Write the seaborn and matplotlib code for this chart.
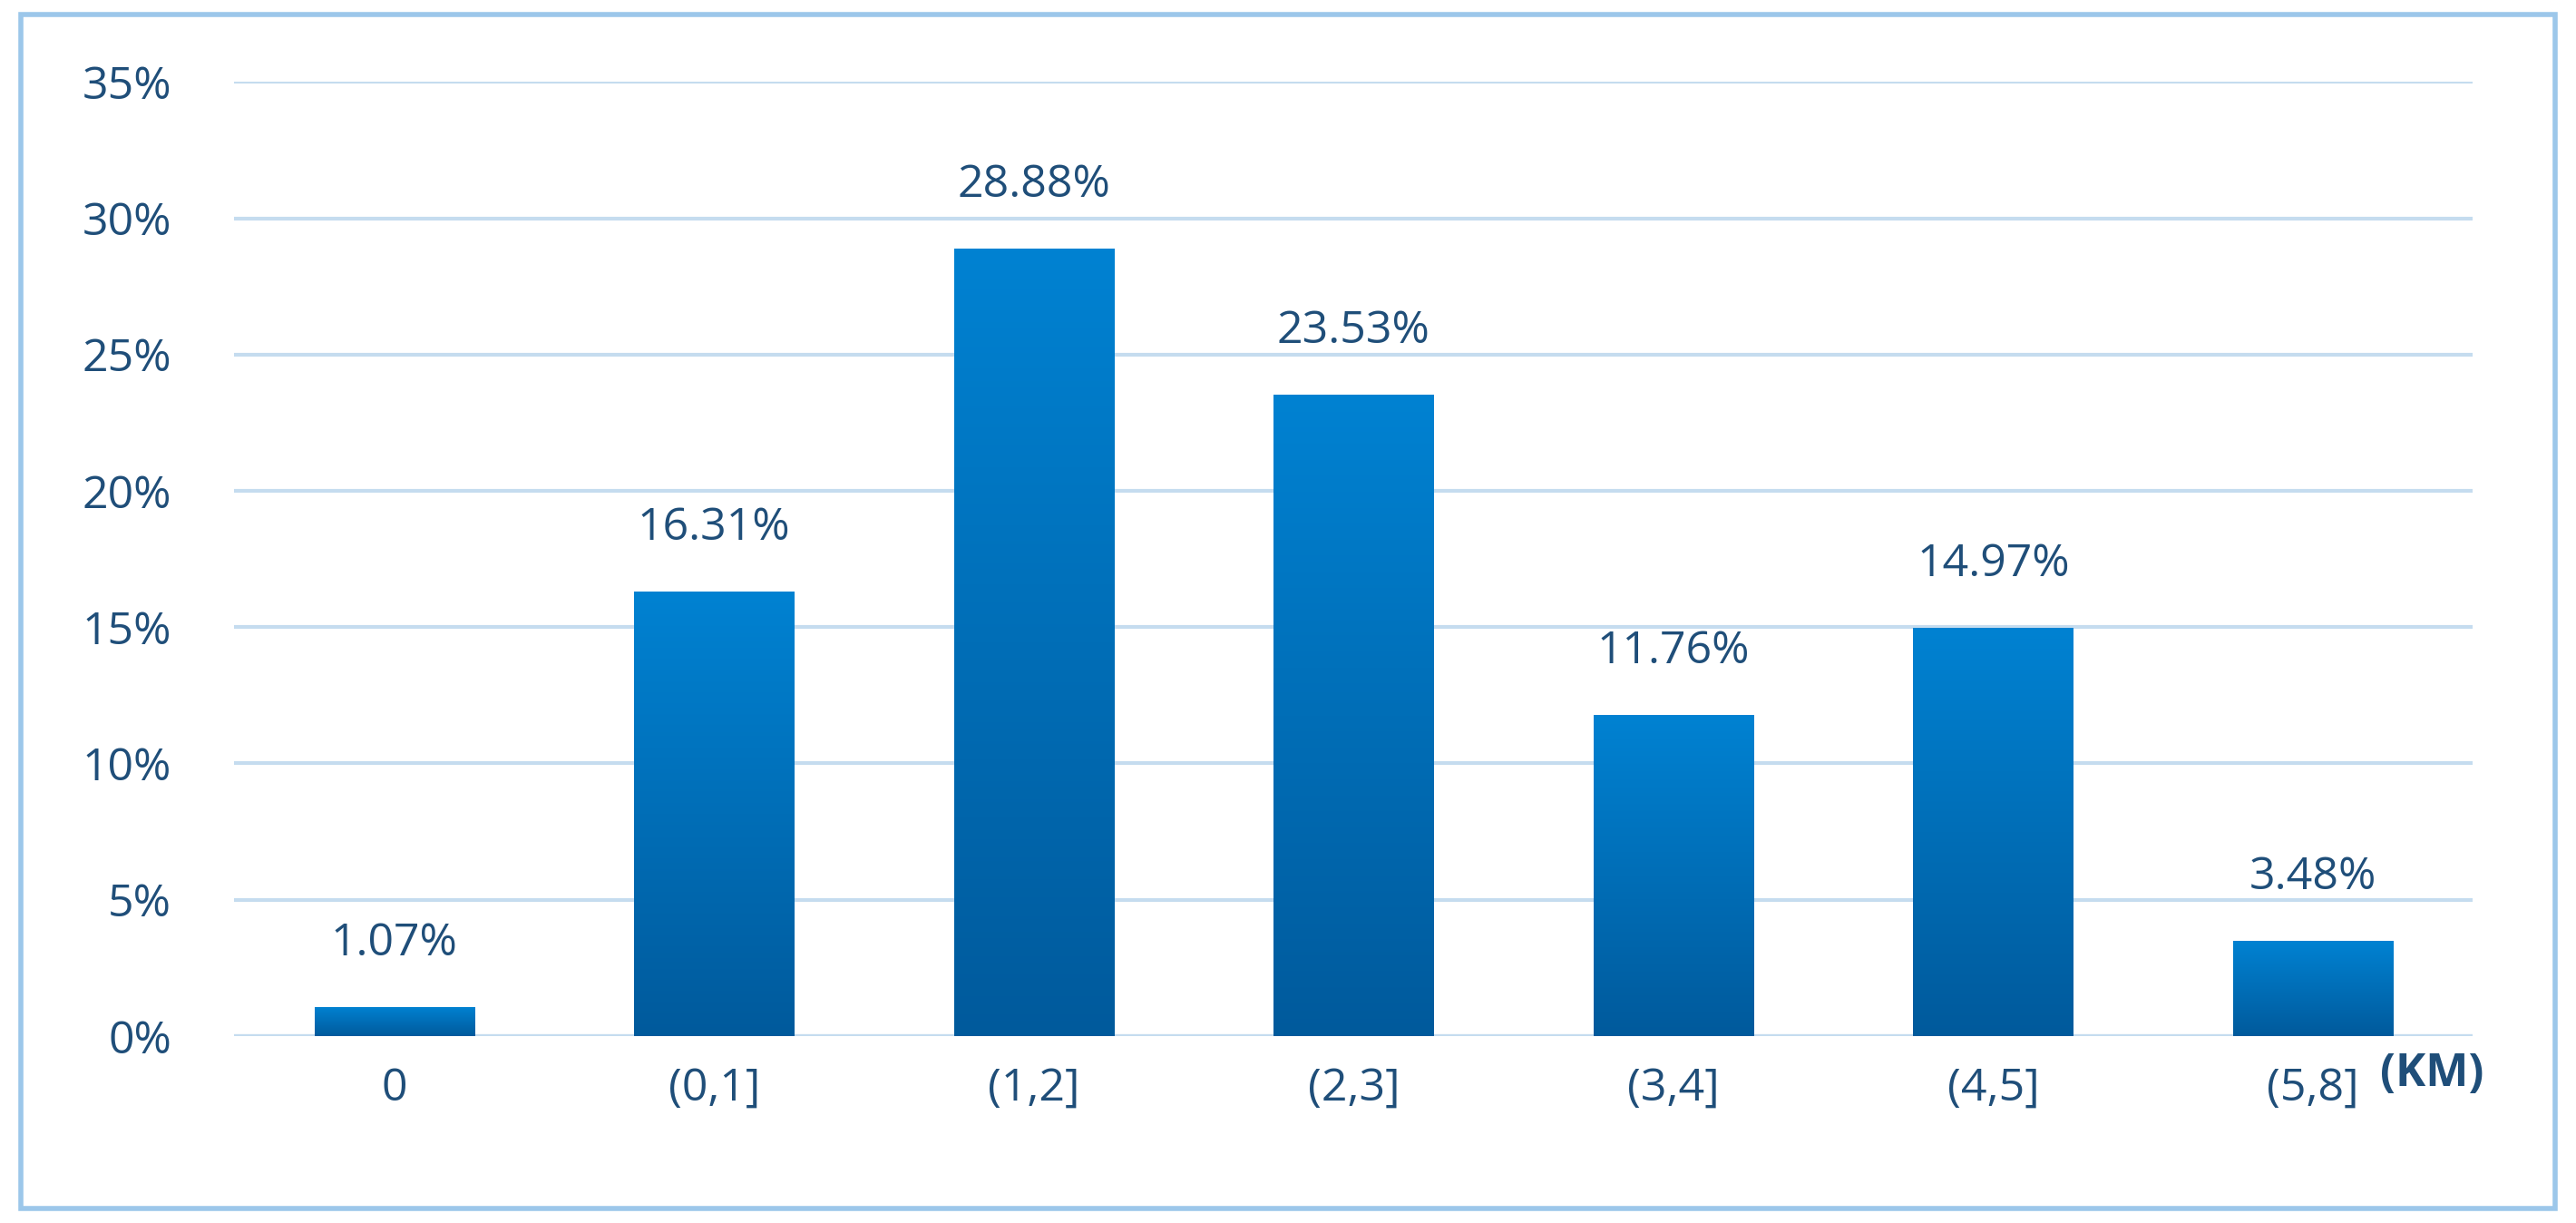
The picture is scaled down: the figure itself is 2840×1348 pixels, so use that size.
import numpy as np
import pandas as pd
import seaborn as sns
import matplotlib.pyplot as plt
from matplotlib.patches import Rectangle
from matplotlib.colors import LinearSegmentedColormap

categories = ['0', '(0,1]', '(1,2]', '(2,3]', '(3,4]', '(4,5]', '(5,8]']
shares = [1.07, 16.31, 28.88, 23.53, 11.76, 14.97, 3.48]
yticks = [0, 5, 10, 15, 20, 25, 30, 35]

text_color = '#1f4e79'
grid_color = '#c5dcef'

sns.set_theme(style='white')
plt.rcParams['font.family'] = ['Open Sans', 'DejaVu Sans']

df = pd.DataFrame({'range': categories, 'share': shares})

fig = plt.figure(figsize=(28.4, 13.48), dpi=100)
ax = fig.add_axes([0.091, 0.153, 0.869, 0.78])

sns.barplot(data=df, x='range', y='share', ax=ax, width=0.5, color='#0070c0', zorder=2)

# vertical gradient on each bar
cmap = LinearSegmentedColormap.from_list('bar', ['#005a9c', '#0082d2'])
grad = np.linspace(0, 1, 256).reshape(-1, 1)
for p in ax.patches:
    x0, y0 = p.get_x(), p.get_y()
    w, h = p.get_width(), p.get_height()
    im = ax.imshow(grad, cmap=cmap, origin='lower', aspect='auto',
                   extent=[x0, x0 + w, y0, y0 + h], zorder=3)
    im.set_clip_path(p)
    p.set_alpha(0)

for i, v in enumerate(shares):
    ax.text(i, v + 1.5, f'{v:.2f}%', ha='center', va='bottom',
            fontsize=36, color=text_color, zorder=4)

ax.set_ylim(0, 35)
ax.set_xlim(-0.5, 6.5)
ax.set_yticks(yticks)
ax.set_yticklabels([f'{t}%' for t in yticks])
ax.yaxis.grid(True, color=grid_color, linewidth=3, zorder=0)
ax.set_axisbelow(True)
for s in ax.spines.values():
    s.set_visible(False)
ax.axhline(0, color=grid_color, linewidth=3, zorder=1)
ax.tick_params(axis='y', labelsize=36, labelcolor=text_color, length=0, pad=50)
ax.tick_params(axis='x', labelsize=36, labelcolor=text_color, length=0, pad=24)
ax.set_xlabel('')
ax.set_ylabel('')

fig.text(0.924, 0.122, '(KM)', fontsize=36, fontweight='bold', color=text_color,
         ha='left', va='center')

fig.patches.append(Rectangle((0.008, 0.012), 0.984, 0.976, transform=fig.transFigure,
                             fill=False, edgecolor='#9cc7ea', linewidth=4))

fig.savefig('out.png', dpi=100)
